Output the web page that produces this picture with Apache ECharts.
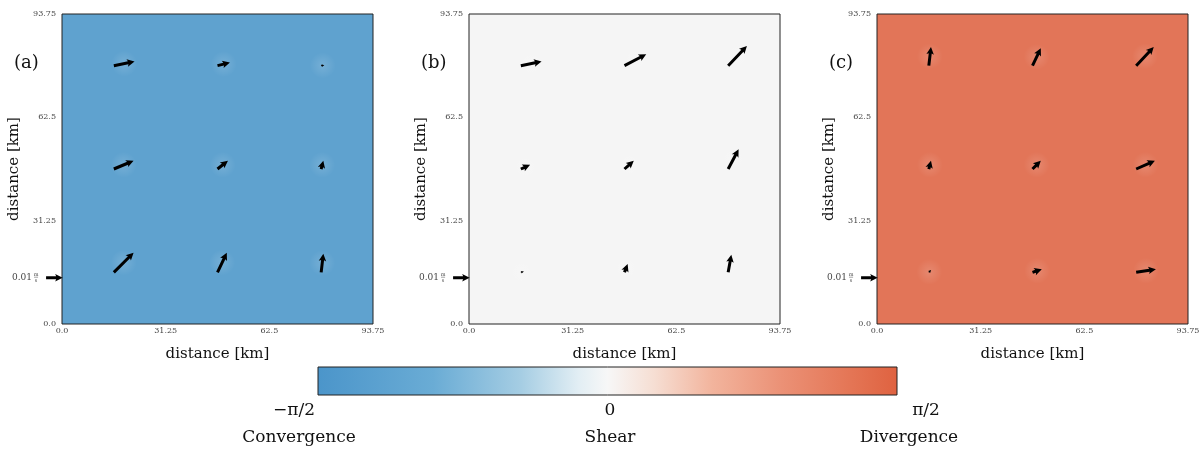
<!DOCTYPE html>
<html>
<head>
<meta charset="utf-8">
<script src="https://cdn.jsdelivr.net/npm/echarts@6/dist/echarts.min.js"></script>
<style>html,body{margin:0;padding:0;background:#fff;}#c{width:1203px;height:452px;}</style>
</head>
<body>
<div id="c"></div>
<script>
// ---- data ----
var tickValues = [0, 31.25, 62.5, 93.75];
var tickLabels = ['0.0', '31.25', '62.5', '93.75'];
var gridX = [15.625, 46.875, 78.125];          // arrow tail x (km), per column
var gridY = [78.125, 46.875, 15.625];          // arrow tail y (km), per row (top to bottom)
var panelNames = ['(a)', '(b)', '(c)'];
// vector components (m/s), row-major from top-left
var uA = [0.0125, 0.0075, 0.0019, 0.0119, 0.0063, 0.0013, 0.0119, 0.0056, 0.0013];
var vA = [0.0025, 0.0019, 0.0003, 0.0050, 0.0050, 0.0050, 0.0119, 0.0119, 0.0113];
var uB = [0.0125, 0.0131, 0.0113, 0.0056, 0.0056, 0.0063, 0.0008, 0.0019, 0.0019];
var vB = [0.0025, 0.0069, 0.0119, 0.0025, 0.0050, 0.0119, 0.0002, 0.0050, 0.0106];
var uC = [0.0013, 0.0050, 0.0106, 0.0013, 0.0050, 0.0113, 0.0006, 0.0056, 0.0119];
var vC = [0.0113, 0.0106, 0.0113, 0.0050, 0.0050, 0.0050, 0.0006, 0.0019, 0.0019];
var keyValue = 0.01;       // reference arrow (m/s)
var keyPos = [-4.8, 14.0]; // key arrow tail (km)
var colorbarTicks = ['\u2212\u03c0/2', '0', '\u03c0/2'];
var colorbarNames = ['Convergence', 'Shear', 'Divergence'];

// ---- chart ----
var K = 500; // km of arrow per (m/s)
var SERIF = '"DejaVu Serif", serif';
var chart = echarts.init(document.getElementById('c'));

function buildData(u, v) {
  var d = [];
  for (var r = 0; r < 3; r++) for (var c = 0; c < 3; c++) {
    var i = r * 3 + c;
    d.push([gridX[c], gridY[r], u[i], v[i]]);
  }
  return d;
}

function arrowPoints(p0, p1) {
  var dx = p1[0] - p0[0], dy = p1[1] - p0[1];
  var L = Math.sqrt(dx * dx + dy * dy);
  if (L < 1e-6) { dx = 1; dy = 0; }
  var n = Math.sqrt(dx * dx + dy * dy);
  var ux = dx / n, uy = dy / n;
  var nx = -uy, ny = ux;
  var sw = 3, hw = 7.5, hl = 7.5, ha = 6.5;
  var minL = hl * 1.15;
  if (L < minL) { var Lc = Math.max(L, 3.2); var s = Lc / minL; sw *= s; hw *= s; hl *= s; ha *= s; L = Lc; }
  function P(a, b) { return [p0[0] + ux * a + nx * b, p0[1] + uy * a + ny * b]; }
  return [P(0, sw/2), P(L - ha, sw/2), P(L - hl, hw/2), P(L, 0), P(L - hl, -hw/2), P(L - ha, -sw/2), P(0, -sw/2)];
}

function renderArrow(params, api) {
  var x = api.value(0), y = api.value(1), u = api.value(2), v = api.value(3);
  var p0 = api.coord([x, y]);
  var p1 = api.coord([x + u * K, y + v * K]);
  var cx = (p0[0] + p1[0]) / 2, cy = (p0[1] + p1[1]) / 2;
  return {
    type: 'group',
    children: [
      { type: 'circle', shape: { cx: cx, cy: cy, r: 13 },
        style: { fill: new echarts.graphic.RadialGradient(0.5, 0.5, 0.5, [
          { offset: 0, color: 'rgba(255,255,255,0.14)' },
          { offset: 1, color: 'rgba(255,255,255,0)' }]) } },
      { type: 'polygon', shape: { points: arrowPoints(p0, p1) }, style: { fill: '#000' } }
    ]
  };
}

function renderKey(params, api) {
  var x = api.value(0), y = api.value(1), u = api.value(2), v = api.value(3);
  var p0 = api.coord([x, y]);
  var p1 = api.coord([x + u * K, y + v * K]);
  return {
    type: 'group',
    children: [
      { type: 'polygon', shape: { points: arrowPoints(p0, p1) }, style: { fill: '#000' } },
      { type: 'text', x: p0[0] - 14, y: p0[1], style: { text: '0.01', fontFamily: SERIF, fontSize: 9, fill: '#444', align: 'right', verticalAlign: 'middle' } },
      { type: 'text', x: p0[0] - 10, y: p0[1] - 1, style: { text: 'm', fontFamily: SERIF, fontSize: 5, fill: '#444', align: 'center', verticalAlign: 'bottom' } },
      { type: 'line', shape: { x1: p0[0] - 12, y1: p0[1] - 0.5, x2: p0[0] - 8, y2: p0[1] - 0.5 }, style: { stroke: '#666', lineWidth: 0.6 } },
      { type: 'text', x: p0[0] - 10, y: p0[1], style: { text: 's', fontFamily: SERIF, fontSize: 5, fill: '#444', align: 'center', verticalAlign: 'top' } }
    ]
  };
}

var gridLefts = [62, 469, 877];
var bgColors = ['#5fa2cf', '#f5f5f5', '#e27558'];
var grids = [], xAxes = [], yAxes = [], series = [], graphics = [];
var U = [uA, uB, uC], V = [vA, vB, vC];

for (var p = 0; p < 3; p++) {
  grids.push({ left: gridLefts[p], top: 14, width: 311, height: 310, show: true, backgroundColor: bgColors[p], borderColor: '#222', borderWidth: 1 });
  var axisCommon = {
    gridIndex: p, type: 'value', min: 0, max: 93.75, interval: 31.25,
    axisLine: { show: false }, axisTick: { show: false }, splitLine: { show: false },
    name: 'distance [km]', nameLocation: 'middle',
    nameTextStyle: { fontFamily: SERIF, fontSize: 15, color: '#111' }
  };
  xAxes.push(Object.assign({}, axisCommon, {
    nameGap: 23,
    axisLabel: { margin: 3, fontFamily: SERIF, fontSize: 8, color: '#444', showMinLabel: true, showMaxLabel: true,
      formatter: function (val) { var i = tickValues.indexOf(val); return i >= 0 ? tickLabels[i] : ''; } }
  }));
  yAxes.push(Object.assign({}, axisCommon, {
    nameGap: 40,
    axisLabel: { margin: 6, fontFamily: SERIF, fontSize: 8, color: '#444', showMinLabel: true, showMaxLabel: true,
      formatter: function (val) { var i = tickValues.indexOf(val); return i >= 0 ? tickLabels[i] : ''; } }
  }));
  series.push({ type: 'custom', xAxisIndex: p, yAxisIndex: p, renderItem: renderArrow, data: buildData(U[p], V[p]), clip: false, silent: true });
  series.push({ type: 'custom', xAxisIndex: p, yAxisIndex: p, renderItem: renderKey, data: [[keyPos[0], keyPos[1], keyValue, 0]], clip: false, silent: true });
  graphics.push({ type: 'text', left: gridLefts[p] - 48, top: 54, style: { text: panelNames[p], fontFamily: SERIF, fontSize: 18, fill: '#111' } });
}

// colorbar
var cbX = 318, cbY = 367, cbW = 579, cbH = 28;
graphics.push({
  type: 'rect', shape: { x: cbX, y: cbY, width: cbW, height: cbH },
  style: {
    fill: new echarts.graphic.LinearGradient(0, 0, 1, 0, [
      { offset: 0, color: '#4b95ca' },
      { offset: 0.2, color: '#6aacd5' },
      { offset: 0.35, color: '#a5cde3' },
      { offset: 0.45, color: '#e2eef4' },
      { offset: 0.5, color: '#f7f7f7' },
      { offset: 0.58, color: '#f6ded3' },
      { offset: 0.68, color: '#f2b49d' },
      { offset: 0.8, color: '#eb9176' },
      { offset: 0.92, color: '#e47555' },
      { offset: 1, color: '#df6240' }
    ]),
    stroke: '#222', lineWidth: 1
  }
});
var cbTickX = [294, 610, 926];
var cbNameX = [299, 610, 909];
for (var k = 0; k < 3; k++) {
  graphics.push({ type: 'text', x: cbTickX[k], y: 411, style: { text: colorbarTicks[k], fontFamily: SERIF, fontSize: 17, fill: '#111', align: 'center', verticalAlign: 'middle' } });
  graphics.push({ type: 'text', x: cbNameX[k], y: 438, style: { text: colorbarNames[k], fontFamily: SERIF, fontSize: 17, fill: '#111', align: 'center', verticalAlign: 'middle' } });
}

chart.setOption({
  animation: false,
  backgroundColor: '#fff',
  grid: grids, xAxis: xAxes, yAxis: yAxes, series: series, graphic: graphics
});
</script>
</body>
</html>
